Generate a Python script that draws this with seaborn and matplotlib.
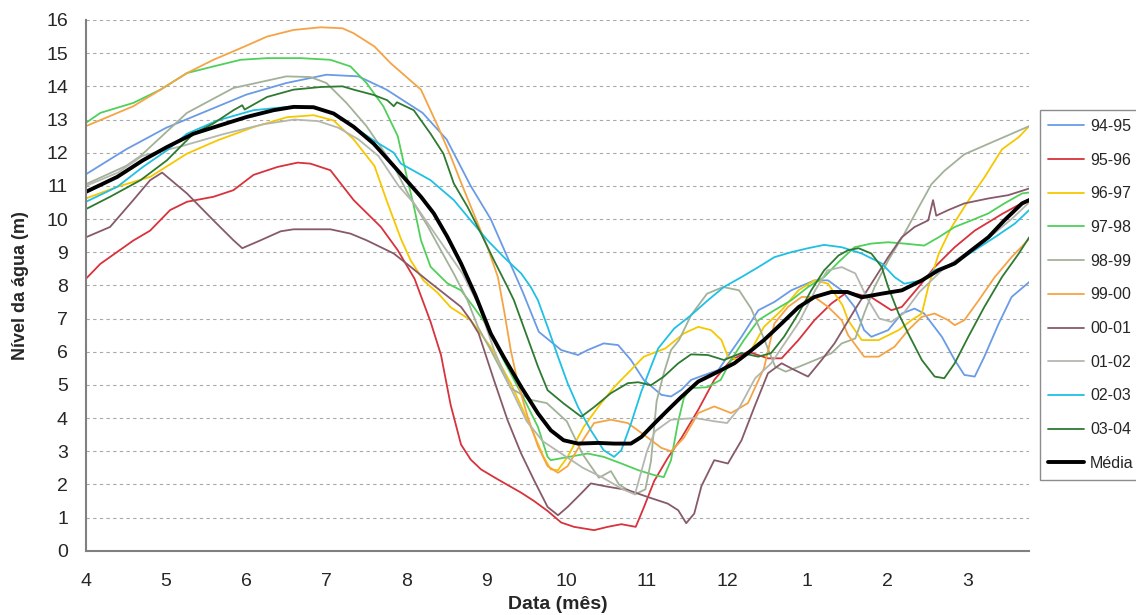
import numpy as np
import pandas as pd
import matplotlib
matplotlib.use("Agg")
import matplotlib.pyplot as plt
import seaborn as sns

# x = months since April (0 = abril ... 11 = março)
month_labels = ['4', '5', '6', '7', '8', '9', '10', '11', '12', '1', '2', '3']

x_9495 = [0, 0.5, 1.0, 1.5, 2.0, 2.5, 3.0, 3.4, 3.75, 4.2, 4.5, 4.8, 5.05, 5.25, 5.45, 5.65, 5.93, 6.14, 6.26,
          6.46, 6.64, 6.8, 6.96, 7.18, 7.3, 7.43, 7.55, 7.89, 8.18, 8.39, 8.59, 8.8, 9.09, 9.26, 9.43, 9.59, 9.71,
          9.8, 10.01, 10.18, 10.34, 10.46, 10.68, 10.84, 10.96, 11.09, 11.21, 11.39, 11.55, 11.77]
y_9495 = [11.35, 12.1, 12.75, 13.25, 13.75, 14.1, 14.35, 14.3, 13.9, 13.2, 12.4, 11.0, 10.0, 8.9, 7.8, 6.6, 6.05,
          5.9, 6.05, 6.25, 6.2, 5.75, 5.15, 4.7, 4.65, 4.85, 5.15, 5.45, 6.45, 7.25, 7.5, 7.85, 8.15, 8.15, 7.85,
          7.35, 6.65, 6.45, 6.65, 7.15, 7.3, 7.15, 6.45, 5.75, 5.3, 5.25, 5.85, 6.85, 7.65, 8.1]

x_9596 = [0, 0.18, 0.59, 0.8, 1.05, 1.26, 1.59, 1.84, 2.09, 2.39, 2.64, 2.8, 3.05, 3.34, 3.68, 3.89, 4.1, 4.3,
          4.43, 4.55, 4.68, 4.8, 4.93, 5.14, 5.43, 5.59, 5.76, 5.93, 6.09, 6.34, 6.51, 6.68, 6.86, 6.96, 7.09, 7.26,
          7.43, 7.64, 7.84, 8.05, 8.26, 8.51, 8.68, 8.89, 9.09, 9.3, 9.5, 9.8, 10.05, 10.18, 10.39, 10.59, 10.84,
          11.09, 11.43, 11.77]
y_9596 = [8.2, 8.65, 9.35, 9.65, 10.27, 10.52, 10.67, 10.87, 11.33, 11.57, 11.7, 11.67, 11.47, 10.57, 9.76, 9.06,
          8.2, 6.9, 5.9, 4.4, 3.2, 2.75, 2.45, 2.15, 1.75, 1.5, 1.2, 0.85, 0.72, 0.62, 0.72, 0.8, 0.72, 1.3, 2.1,
          2.8, 3.4, 4.25, 5.15, 5.75, 6.0, 5.8, 5.8, 6.35, 6.95, 7.45, 7.8, 7.64, 7.25, 7.35, 7.95, 8.55, 9.15,
          9.65, 10.15, 10.6]

x_9697 = [0, 0.39, 0.8, 1.26, 1.64, 2.09, 2.51, 2.84, 3.09, 3.34, 3.6, 3.76, 3.93, 4.05, 4.21, 4.39, 4.55, 4.8,
          5.05, 5.3, 5.55, 5.71, 5.8, 5.89, 6.01, 6.21, 6.39, 6.59, 6.8, 6.96, 7.23, 7.46, 7.64, 7.8, 7.93, 8.01,
          8.14, 8.3, 8.46, 8.68, 8.89, 9.09, 9.26, 9.44, 9.51, 9.68, 9.89, 10.14, 10.3, 10.43, 10.51, 10.64, 10.8,
          11.01, 11.21, 11.43, 11.64, 11.77]
y_9697 = [10.62, 10.97, 11.27, 11.97, 12.37, 12.77, 13.07, 13.13, 12.97, 12.4, 11.6, 10.5, 9.4, 8.76, 8.15, 7.77,
          7.34, 6.95, 6.14, 5.05, 3.73, 2.83, 2.45, 2.43, 2.83, 3.73, 4.33, 4.93, 5.45, 5.85, 6.1, 6.55, 6.75, 6.65,
          6.35, 5.85, 5.75, 6.05, 6.75, 7.25, 7.85, 8.15, 8.05, 7.4, 6.95, 6.35, 6.35, 6.65, 6.95, 7.15, 7.95, 8.95,
          9.75, 10.55, 11.25, 12.1, 12.47, 12.8]

x_9798 = [0, 0.18, 0.59, 0.93, 1.26, 1.59, 1.93, 2.26, 2.68, 3.05, 3.3, 3.5, 3.71, 3.89, 4.01, 4.09, 4.18, 4.3,
          4.51, 4.68, 4.84, 5.0, 5.21, 5.43, 5.64, 5.76, 5.8, 6.14, 6.26, 6.46, 6.68, 6.89, 7.09, 7.21, 7.3, 7.39,
          7.46, 7.54, 7.75, 7.92, 8.05, 8.21, 8.39, 8.59, 8.8, 9.01, 9.21, 9.39, 9.59, 9.8, 10.01, 10.21, 10.46,
          10.64, 10.84, 11.05, 11.26, 11.46, 11.68, 11.77]
y_9798 = [12.9, 13.2, 13.5, 13.9, 14.4, 14.6, 14.8, 14.85, 14.85, 14.8, 14.6, 14.1, 13.4, 12.5, 11.2, 10.4, 9.36,
          8.56, 8.06, 7.85, 7.34, 6.8, 5.75, 4.75, 3.73, 2.83, 2.73, 2.88, 2.93, 2.83, 2.63, 2.43, 2.28, 2.22, 2.73,
          3.9, 4.6, 4.9, 4.93, 5.15, 5.75, 6.35, 6.95, 7.25, 7.55, 7.95, 8.25, 8.7, 9.15, 9.26, 9.3, 9.26, 9.2, 9.45,
          9.76, 9.96, 10.17, 10.47, 10.77, 10.8]

x_9899 = [0, 0.5, 0.68, 1.26, 1.84, 2.5, 2.8, 3.0, 3.25, 3.5, 3.67, 3.84, 4.01, 4.26, 4.43, 4.59, 4.76, 4.89,
          5.05, 5.3, 5.55, 5.75, 6.0, 6.2, 6.4, 6.55, 6.65, 6.85, 6.98, 7.05, 7.12, 7.21, 7.3, 7.4, 7.55, 7.75,
          7.95, 8.15, 8.3, 8.45, 8.6, 8.73, 8.9, 9.1, 9.3, 9.43, 9.6, 9.71, 9.84, 10.01, 10.21, 10.39, 10.55, 10.71,
          10.96, 11.34, 11.77]
y_9899 = [11.05, 11.6, 11.9, 13.2, 13.95, 14.3, 14.28, 14.1, 13.5, 12.8, 12.2, 11.6, 10.8, 9.8, 9.05, 8.35, 7.55,
          6.75, 6.05, 4.9, 4.55, 4.45, 3.9, 2.9, 2.2, 2.4, 2.0, 1.7, 1.85, 2.7, 4.5, 5.35, 6.05, 6.35, 7.1, 7.75,
          7.95, 7.85, 7.3, 6.45, 5.55, 5.4, 5.55, 5.75, 5.95, 6.25, 6.4, 7.15, 7.95, 8.75, 9.55, 10.35, 11.05, 11.45,
          11.95, 12.35, 12.8]

x_9900 = [0, 0.59, 0.93, 1.26, 1.59, 1.93, 2.26, 2.59, 2.93, 3.2, 3.34, 3.6, 3.8, 4.18, 4.39, 4.55, 4.68, 4.84,
          5.01, 5.14, 5.22, 5.3, 5.39, 5.51, 5.64, 5.76, 5.89, 6.01, 6.18, 6.34, 6.55, 6.76, 6.96, 7.18, 7.3,
          7.46, 7.64, 7.84, 8.05, 8.26, 8.46, 8.59, 8.76, 8.93, 9.09, 9.26, 9.43, 9.51, 9.71, 9.89, 10.09, 10.26,
          10.43, 10.59, 10.76, 10.84, 10.96, 11.14, 11.34, 11.55, 11.77]
y_9900 = [12.8, 13.4, 13.9, 14.4, 14.8, 15.15, 15.5, 15.7, 15.78, 15.75, 15.6, 15.2, 14.7, 13.9, 12.8, 11.9, 11.1,
          10.15, 9.15, 8.25, 7.2, 6.05, 5.05, 4.05, 3.15, 2.55, 2.35, 2.55, 3.25, 3.85, 3.95, 3.85, 3.5, 3.1,
          3.0, 3.4, 4.15, 4.35, 4.15, 4.45, 5.5, 6.85, 7.35, 7.65, 7.65, 7.35, 6.95, 6.5, 5.85, 5.85, 6.15, 6.65,
          7.05, 7.15, 6.95, 6.8, 6.95, 7.55, 8.25, 8.85, 9.4]

x_0001 = [0, 0.3, 0.59, 0.8, 0.95, 1.26, 1.59, 1.84, 1.95, 2.18, 2.43, 2.59, 3.05, 3.3, 3.5, 3.84, 4.05, 4.26,
          4.46, 4.68, 4.8, 4.9, 5.09, 5.26, 5.43, 5.59, 5.76, 5.89, 6.01, 6.18, 6.3, 6.51, 6.76, 7.01, 7.26, 7.39,
          7.49, 7.59, 7.68, 7.84, 8.01, 8.18, 8.34, 8.51, 8.68, 8.84, 9.01, 9.18, 9.34, 9.59, 9.8, 10.01, 10.18,
          10.34, 10.51, 10.57, 10.61, 10.76, 10.96, 11.26, 11.51, 11.77]
y_0001 = [9.45, 9.76, 10.57, 11.17, 11.4, 10.77, 9.96, 9.36, 9.12, 9.36, 9.63, 9.69, 9.69, 9.56, 9.36, 8.96, 8.56,
          8.15, 7.77, 7.35, 6.95, 6.55, 5.15, 3.94, 2.93, 2.13, 1.32, 1.07, 1.32, 1.73, 2.03, 1.93, 1.83, 1.62,
          1.42, 1.22, 0.83, 1.12, 1.95, 2.73, 2.63, 3.33, 4.33, 5.35, 5.65, 5.45, 5.25, 5.75, 6.25, 7.25, 8.05,
          8.85, 9.45, 9.76, 9.96, 10.57, 10.1, 10.27, 10.47, 10.62, 10.72, 10.92]

x_0102 = [0, 0.4, 0.7, 1.2, 1.7, 2.2, 2.6, 2.9, 3.15, 3.4, 3.65, 3.9, 4.1, 4.4, 4.7, 4.9, 5.1, 5.3, 5.5, 5.7,
          5.95, 6.2, 6.45, 6.7, 6.85, 7.0, 7.1, 7.3, 7.6, 7.85, 8.0, 8.15, 8.35, 8.55, 8.9, 9.1, 9.25, 9.43, 9.6,
          9.75, 9.9, 10.05, 10.2, 10.4, 10.7, 11.0, 11.3, 11.55, 11.77]
y_0102 = [11.0, 11.4, 11.9, 12.2, 12.55, 12.85, 13.0, 12.95, 12.75, 12.4, 11.9, 11.0, 10.45, 9.4, 8.35, 7.4, 6.0,
          4.9, 3.9, 3.3, 2.9, 2.5, 2.2, 1.85, 1.7, 3.0, 3.6, 3.95, 4.0, 3.9, 3.85, 4.3, 5.2, 5.65, 6.9, 7.85, 8.45,
          8.55, 8.36, 7.6, 7.0, 6.9, 7.15, 7.8, 8.5, 9.0, 9.5, 10.0, 10.5]

x_0203 = [0, 0.39, 0.71, 1.01, 1.26, 1.64, 2.09, 2.51, 2.8, 3.09, 3.34, 3.59, 3.84, 3.93, 4.3, 4.59, 4.8, 5.01,
          5.21, 5.43, 5.55, 5.64, 5.76, 5.89, 6.01, 6.14, 6.3, 6.46, 6.59, 6.68, 6.8, 6.93, 7.05, 7.14, 7.34, 7.55,
          7.76, 7.96, 8.18, 8.39, 8.59, 8.8, 9.01, 9.21, 9.43, 9.68, 9.93, 10.09, 10.21, 10.43, 10.59, 10.84, 11.09,
          11.34, 11.59, 11.77]
y_0203 = [10.52, 10.97, 11.57, 12.07, 12.57, 12.97, 13.28, 13.38, 13.38, 13.18, 12.78, 12.37, 12.0, 11.67, 11.17,
          10.57, 9.96, 9.36, 8.86, 8.36, 7.95, 7.55, 6.75, 5.85, 5.05, 4.33, 3.63, 3.03, 2.83, 3.03, 3.83, 4.8,
          5.55, 6.1, 6.7, 7.1, 7.55, 7.95, 8.25, 8.55, 8.85, 9.0, 9.12, 9.22, 9.15, 8.96, 8.66, 8.25, 8.05, 8.15,
          8.46, 8.66, 9.06, 9.45, 9.86, 10.27]

x_0304 = [0, 0.3, 0.68, 1.01, 1.34, 1.59, 1.84, 1.95, 1.98, 2.26, 2.59, 2.93, 3.2, 3.34, 3.59, 3.76, 3.84, 3.88,
          4.09, 4.3, 4.46, 4.59, 4.76, 4.93, 5.09, 5.26, 5.34, 5.46, 5.64, 5.76, 5.96, 6.18, 6.34, 6.55, 6.76,
          6.89, 7.05, 7.21, 7.39, 7.55, 7.76, 7.96, 8.18, 8.39, 8.55, 8.71, 8.89, 9.05, 9.21, 9.39, 9.51, 9.64,
          9.8, 9.93, 10.01, 10.14, 10.26, 10.43, 10.59, 10.71, 10.84, 11.01, 11.21, 11.43, 11.64, 11.77]
y_0304 = [10.3, 10.67, 11.17, 11.77, 12.57, 12.88, 13.28, 13.43, 13.3, 13.68, 13.9, 13.98, 14.0, 13.9, 13.74,
          13.58, 13.4, 13.52, 13.28, 12.57, 11.97, 11.07, 10.37, 9.56, 8.76, 7.95, 7.55, 6.75, 5.55, 4.84, 4.44,
          4.04, 4.33, 4.75, 5.05, 5.08, 4.99, 5.25, 5.65, 5.92, 5.9, 5.75, 5.96, 5.85, 5.96, 6.45, 7.15, 7.85, 8.45,
          8.9, 9.06, 9.12, 8.96, 8.55, 7.95, 7.15, 6.55, 5.75, 5.25, 5.2, 5.65, 6.45, 7.35, 8.25, 8.96, 9.45]

x_media = [0, 0.39, 0.71, 1.01, 1.34, 1.68, 2.01, 2.34, 2.59, 2.84, 3.09, 3.34, 3.59, 3.84, 4.18, 4.34, 4.51,
           4.68, 4.86, 5.05, 5.21, 5.43, 5.64, 5.8, 5.96, 6.14, 6.39, 6.59, 6.8, 6.93, 7.09, 7.26, 7.43, 7.64,
           7.89, 8.09, 8.26, 8.46, 8.68, 8.89, 9.09, 9.3, 9.5, 9.68, 9.93, 10.18, 10.43, 10.64, 10.84, 11.05, 11.26,
           11.46, 11.68, 11.77]
y_media = [10.82, 11.27, 11.77, 12.17, 12.57, 12.83, 13.08, 13.28, 13.38, 13.37, 13.18, 12.78, 12.27, 11.6, 10.67,
           10.17, 9.46, 8.66, 7.7, 6.55, 5.85, 4.94, 4.14, 3.63, 3.33, 3.23, 3.25, 3.23, 3.23, 3.43, 3.83,
           4.24, 4.64, 5.1, 5.4, 5.65, 5.96, 6.35, 6.85, 7.34, 7.65, 7.8, 7.8, 7.64, 7.75, 7.85, 8.15, 8.46, 8.66,
           9.06, 9.45, 9.96, 10.47, 10.57]

series = [
    ('94-95', x_9495, y_9495, '#6a9be6'),
    ('95-96', x_9596, y_9596, '#d8323c'),
    ('96-97', x_9697, y_9697, '#f5c800'),
    ('97-98', x_9798, y_9798, '#4fd05a'),
    ('98-99', x_9899, y_9899, '#a2b198'),
    ('99-00', x_9900, y_9900, '#f5a445'),
    ('00-01', x_0001, y_0001, '#875a69'),
    ('01-02', x_0102, y_0102, '#b4b7ae'),
    ('02-03', x_0203, y_0203, '#1fc0e4'),
    ('03-04', x_0304, y_0304, '#2e7a31'),
]

sns.set_style("white")
plt.rcParams['font.family'] = ['Liberation Sans', 'DejaVu Sans']

fig = plt.figure(figsize=(11.36, 6.15), dpi=100)
ax = fig.add_axes([0.0757, 0.1045, 0.8303, 0.863])

for name, xs, ys, col in series:
    df = pd.DataFrame({'t': xs, 'nivel': ys})
    sns.lineplot(data=df, x='t', y='nivel', sort=False, estimator=None, color=col,
                 linewidth=1.3, label=name, ax=ax)

dfm = pd.DataFrame({'t': x_media, 'nivel': y_media})
sns.lineplot(data=dfm, x='t', y='nivel', sort=False, estimator=None, color='black',
             linewidth=2.8, label='Média', ax=ax)

ax.set_xlim(0, 11.77)
ax.set_ylim(0, 16)
ax.set_xticks(range(12))
ax.set_xticklabels(month_labels)
ax.set_yticks(range(17))

for v in range(1, 17):
    ax.axhline(v, color='#a8a8a8', linestyle=(0, (3, 3)), linewidth=0.8, zorder=0)

for s in ['top', 'right']:
    ax.spines[s].set_visible(False)
for s in ['left', 'bottom']:
    ax.spines[s].set_color('#808080')
    ax.spines[s].set_linewidth(1.5)

ax.tick_params(axis='x', direction='out', length=5, width=1.2, color='#808080',
               labelsize=14, pad=11)
ax.tick_params(axis='y', direction='out', length=6, width=1.2, color='#808080',
               labelsize=14, pad=7)

ax.set_xlabel('Data (mês)', fontsize=14, fontweight='bold', labelpad=4)
ax.set_ylabel('Nível da água (m)', fontsize=13, fontweight='bold')
ax.yaxis.set_label_coords(-0.0605, 0.5)

leg = ax.legend(loc='upper left', bbox_to_anchor=(1.011, 0.83), frameon=True, fancybox=False,
                fontsize=11.5, handlelength=2.2, handletextpad=0.4, labelspacing=1.17,
                borderpad=0.55, borderaxespad=0)
leg.get_frame().set_edgecolor('#707070')
leg.get_frame().set_linewidth(1.0)

fig.savefig('out.png', dpi=100)
